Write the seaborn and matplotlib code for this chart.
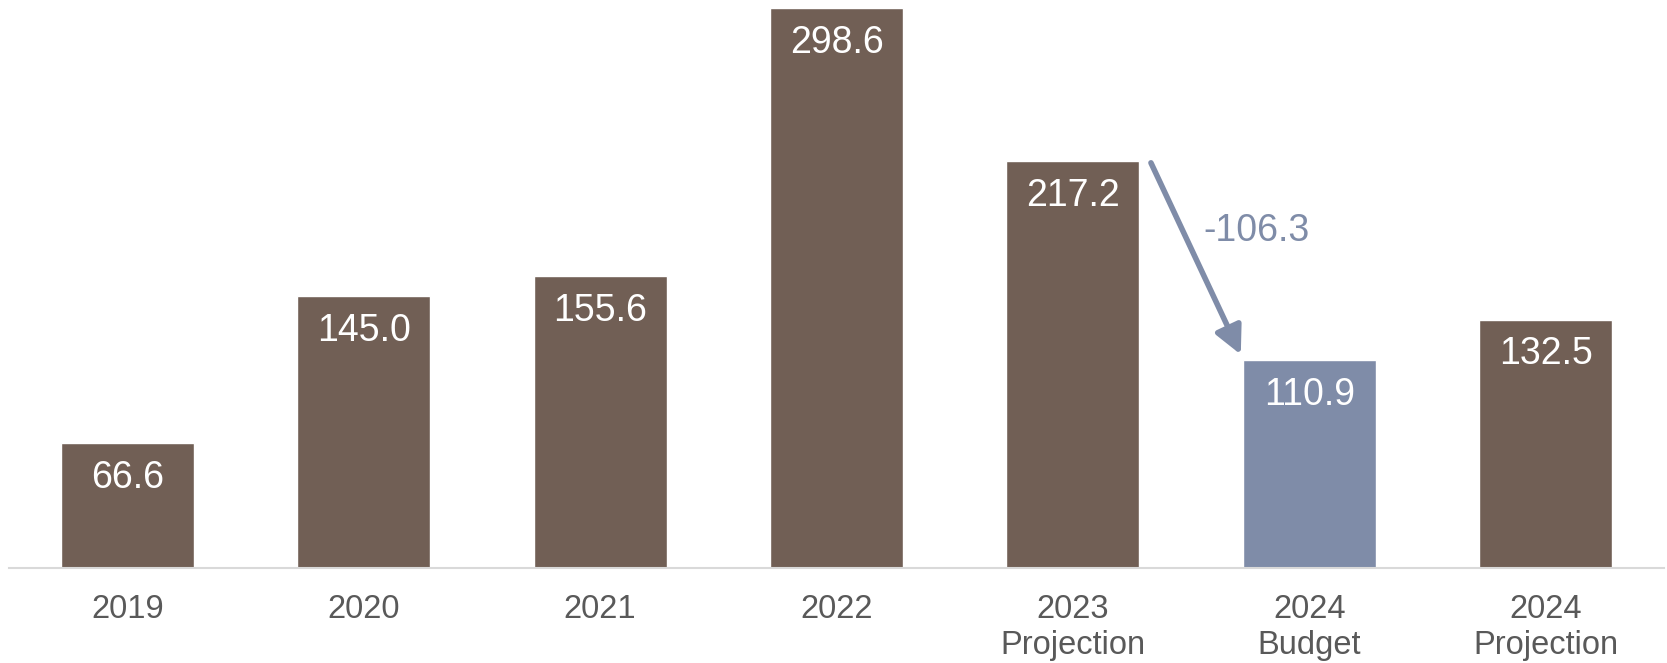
import matplotlib.pyplot as plt
import seaborn as sns

# chart data
categories = ['2019', '2020', '2021', '2022', '2023\nProjection', '2024\nBudget', '2024\nProjection']
values = [66.6, 145.0, 155.6, 298.6, 217.2, 110.9, 132.5]
bar_colors = ['#715F55', '#715F55', '#715F55', '#715F55', '#715F55', '#7F8CA8', '#715F55']

sns.set_theme(style='white')
plt.rcParams['font.family'] = ['Liberation Sans', 'DejaVu Sans']

fig = plt.figure(figsize=(16.67, 6.63), dpi=100)
ax = fig.add_axes([0.0054, 0.1433, 0.9928, 0.848])

sns.barplot(x=categories, y=values, hue=categories, palette=bar_colors,
            legend=False, width=0.563, saturation=1, ax=ax)

ax.set_xlim(-0.5, 6.5)
ax.set_ylim(0, 300)

# value labels inside the bars
for i, v in enumerate(values):
    ax.annotate(f'{v:.1f}', xy=(i, v), xytext=(0, -25), textcoords='offset points',
                ha='center', va='center', color='white', fontsize=27)

# arrow from 2023 projection to 2024 budget
ax.annotate('', xy=(5 - 0.29, values[5] + 3), xytext=(4 + 0.33, values[4] - 1),
            arrowprops=dict(arrowstyle='-|>,head_width=0.7,head_length=1.4',
                            color='#7F8CA8', lw=4, shrinkA=0, shrinkB=0))
ax.text(4.55, 180, f'{values[5] - values[4]:.1f}', color='#7F8CA8', fontsize=27,
        ha='left', va='center')

for s in ['top', 'right', 'left']:
    ax.spines[s].set_visible(False)
ax.spines['bottom'].set_color('#D9D9D9')
ax.spines['bottom'].set_linewidth(1.5)
ax.set_yticks([])
ax.set_ylabel('')
ax.tick_params(axis='x', length=0, pad=19, labelsize=23.5, labelcolor='#595959')

fig.savefig('out.png', dpi=100)
